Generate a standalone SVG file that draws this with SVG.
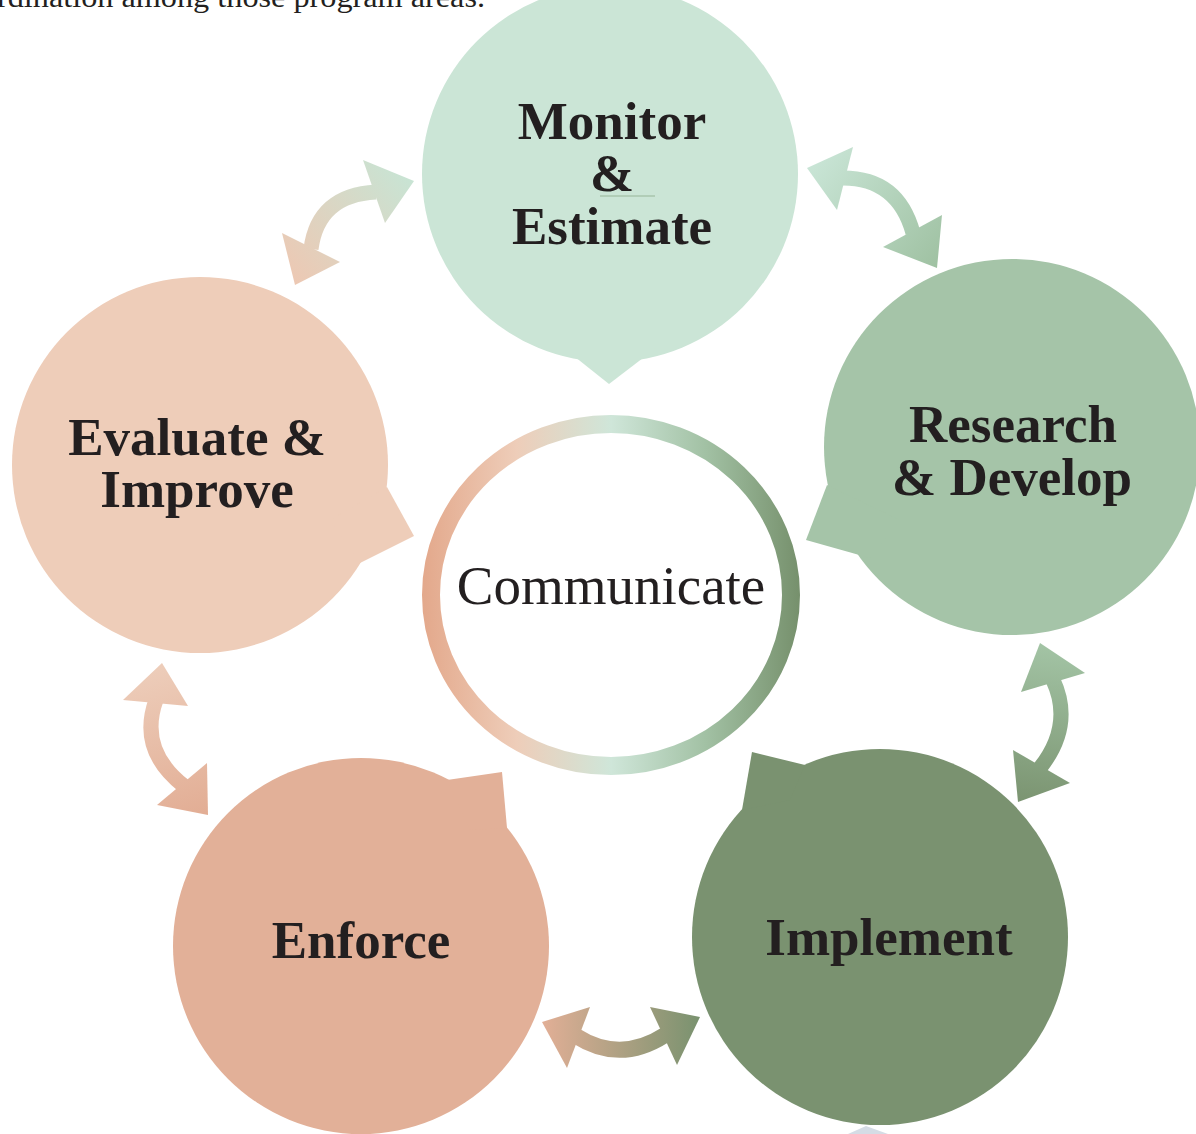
<svg xmlns="http://www.w3.org/2000/svg" width="1196" height="1134" viewBox="0 0 1196 1134">
<defs>
<style>
.lbl{font-family:"Liberation Serif","Times New Roman",serif;font-weight:bold;font-size:53px;fill:#231f20;text-anchor:middle}
.ctr{font-family:"Liberation Serif","Times New Roman",serif;font-size:55px;fill:#231f20;text-anchor:middle}
.top{font-family:"Liberation Serif","Times New Roman",serif;font-size:30px;fill:#231f20}
</style>
<linearGradient id="ring" x1="422" y1="0" x2="800" y2="0" gradientUnits="userSpaceOnUse">
<stop offset="0" stop-color="#e3a88b"/>
<stop offset="0.25" stop-color="#eecdb9"/>
<stop offset="0.5" stop-color="#cfe6d9"/>
<stop offset="0.75" stop-color="#a2c1a4"/>
<stop offset="1" stop-color="#76906c"/>
</linearGradient>
<linearGradient id="a1" x1="414" y1="181" x2="295" y2="285" gradientUnits="userSpaceOnUse">
<stop offset="0" stop-color="#c8e4d4"/><stop offset="1" stop-color="#edc8b3"/>
</linearGradient>
<linearGradient id="a2" x1="807" y1="168" x2="937" y2="268" gradientUnits="userSpaceOnUse">
<stop offset="0" stop-color="#c9e5d6"/><stop offset="1" stop-color="#9fc1a2"/>
</linearGradient>
<linearGradient id="a3" x1="1040" y1="643" x2="1018" y2="802" gradientUnits="userSpaceOnUse">
<stop offset="0" stop-color="#a3c4a5"/><stop offset="1" stop-color="#7b9471"/>
</linearGradient>
<linearGradient id="a4" x1="542" y1="0" x2="700" y2="0" gradientUnits="userSpaceOnUse">
<stop offset="0" stop-color="#e2af96"/><stop offset="1" stop-color="#79926f"/>
</linearGradient>
<linearGradient id="a5" x1="162" y1="663" x2="208" y2="815" gradientUnits="userSpaceOnUse">
<stop offset="0" stop-color="#edcdba"/><stop offset="1" stop-color="#e2ad94"/>
</linearGradient>
</defs>
<rect width="1196" height="1134" fill="#ffffff"/>
<text class="top" x="-3" y="7" textLength="488" lengthAdjust="spacingAndGlyphs">rdination among those program areas.</text>
<polygon points="848,1134 866,1126 888,1134" fill="#d5dce5"/>

<g id="connectors" fill="none">
<g id="arrow-evaluate-monitor">
<path d="M376,192 Q318,195 311,249" stroke="url(#a1)" stroke-width="15"/>
<polygon points="363,160 414,181 385,223" fill="url(#a1)"/>
<polygon points="282,233 295,285 340,262" fill="url(#a1)"/>
</g>
<g id="arrow-monitor-research">
<path d="M843,178 Q898,178 913,233" stroke="url(#a2)" stroke-width="15"/>
<polygon points="807,168 853,147 837,210" fill="url(#a2)"/>
<polygon points="883,247 942,215 937,268" fill="url(#a2)"/>
</g>
<g id="arrow-research-implement">
<path d="M1053,680 Q1074,725 1040,768" stroke="url(#a3)" stroke-width="15"/>
<polygon points="1040,643 1021,692 1085,673" fill="url(#a3)"/>
<polygon points="1013,750 1018,802 1070,783" fill="url(#a3)"/>
</g>
<g id="arrow-implement-enforce">
<path d="M576,1036 Q620,1064 665,1035" stroke="url(#a4)" stroke-width="16"/>
<polygon points="542,1022 590,1007 567,1068" fill="url(#a4)"/>
<polygon points="650,1007 700,1017 677,1065" fill="url(#a4)"/>
</g>
<g id="arrow-enforce-evaluate">
<path d="M156,700 Q138,750 184,786" stroke="url(#a5)" stroke-width="15"/>
<polygon points="162,663 123,700 188,706" fill="url(#a5)"/>
<polygon points="207,763 208,815 157,805" fill="url(#a5)"/>
</g>
</g>

<g id="node-monitor">
<circle cx="610" cy="174" r="188" fill="#cbe5d6"/>
<polygon points="560,345 609,384 660,345" fill="#cbe5d6"/>
<text class="lbl" x="612" y="139">Monitor</text>
<text class="lbl" x="612" y="191">&amp;</text>
<line x1="600" y1="196" x2="655" y2="196" stroke="#a9c4ad" stroke-width="1.5"/>
<text class="lbl" x="612" y="244">Estimate</text>
</g>

<g id="node-research">
<circle cx="1012" cy="447" r="188" fill="#a5c4a8"/>
<polygon points="827,485 806,540 870,558 900,520" fill="#a5c4a8"/>
<text class="lbl" x="1013" y="442">Research</text>
<text class="lbl" x="1012" y="495">&amp; Develop</text>
</g>

<g id="node-evaluate">
<circle cx="200" cy="465" r="188" fill="#eecdb9"/>
<polygon points="387,487 414,536 360,563 330,520" fill="#eecdb9"/>
<text class="lbl" x="197" y="455">Evaluate &amp;</text>
<text class="lbl" x="197" y="507">Improve</text>
</g>

<g id="node-enforce">
<circle cx="361" cy="946" r="188" fill="#e2b098"/>
<polygon points="447,780 502,772 507,828 470,830" fill="#e2b098"/>
<text class="lbl" x="361" y="958">Enforce</text>
</g>

<g id="node-implement">
<circle cx="880" cy="937" r="188" fill="#7a9270"/>
<polygon points="752,752 805,765 790,800 742,810" fill="#7a9270"/>
<text class="lbl" x="889" y="955">Implement</text>
</g>

<g id="node-communicate">
<ellipse cx="611" cy="595" rx="180" ry="171" fill="#ffffff" stroke="url(#ring)" stroke-width="18"/>
<text class="ctr" x="611" y="604">Communicate</text>
</g>
</svg>
